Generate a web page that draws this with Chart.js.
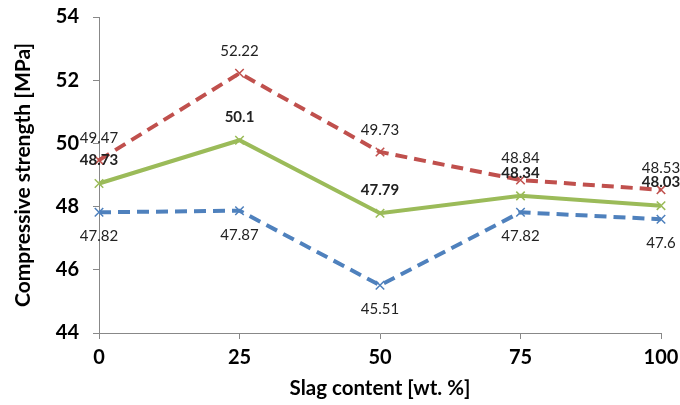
<!DOCTYPE html>
<html>
<head>
<meta charset="utf-8">
<script src="https://cdn.jsdelivr.net/npm/chart.js@4/dist/chart.umd.min.js"></script>
<style>
  html, body { margin: 0; padding: 0; background: #fff; }
  #wrap { width: 680px; height: 405px; }
</style>
</head>
<body>
<div id="wrap"><canvas id="chart"></canvas></div>
<script>
// slag content categories
var slagLabels = ['0', '25', '50', '75', '100'];

// compressive strength series [MPa]
var redVals = [49.47, 52.22, 49.73, 48.84, 48.53];
var greenVals = [48.73, 50.1, 47.79, 48.34, 48.03];
var blueVals = [47.82, 47.87, 45.51, 47.82, 47.6];

var yTicks = [44, 46, 48, 50, 52, 54];

var RED = '#C0504D';
var GREEN = '#9BBB59';
var BLUE = '#4F81BD';

// draws the value next to every point
var valueLabels = {
    id: 'valueLabels',
    afterDatasetsDraw: function(chart) {
        var ctx = chart.ctx;
        ctx.save();
        ctx.textAlign = 'center';
        ctx.textBaseline = 'middle';
        ctx.fillStyle = '#222';
        chart.data.datasets.forEach(function(ds, i) {
            var meta = chart.getDatasetMeta(i);
            ctx.font = (ds.labelBold ? 'bold ' : '') + '15px Lato, "Open Sans", sans-serif';
            meta.data.forEach(function(pt, j) {
                ctx.fillText(String(ds.data[j]), pt.x, pt.y + ds.labelOffset);
            });
        });
        ctx.restore();
    }
};

var ctx = document.getElementById('chart').getContext('2d');
var chart = new Chart(ctx, {
    type: 'line',
    data: {
        labels: slagLabels,
        datasets: [{
            data: redVals,
            borderColor: RED,
            borderWidth: 4,
            borderDash: [12, 7],
            pointStyle: 'crossRot',
            pointRadius: 6,
            pointBorderWidth: 1.5,
            pointBorderColor: RED,
            labelOffset: -22,
            labelBold: false
        }, {
            data: greenVals,
            borderColor: GREEN,
            borderWidth: 4,
            pointStyle: 'crossRot',
            pointRadius: 6,
            pointBorderWidth: 1.5,
            pointBorderColor: GREEN,
            labelOffset: -23,
            labelBold: true
        }, {
            data: blueVals,
            borderColor: BLUE,
            borderWidth: 4,
            borderDash: [12, 7],
            pointStyle: 'crossRot',
            pointRadius: 6,
            pointBorderWidth: 1.5,
            pointBorderColor: BLUE,
            labelOffset: 24,
            labelBold: false
        }]
    },
    options: {
        responsive: true,
        maintainAspectRatio: false,
        animation: false,
        layout: { padding: { left: 0, right: 19, top: 17, bottom: 0 } },
        plugins: {
            legend: { display: false },
            tooltip: { enabled: false }
        },
        scales: {
            x: {
                type: 'category',
                offset: false,
                grid: {
                    drawOnChartArea: false,
                    drawTicks: true,
                    tickLength: 6,
                    color: '#888'
                },
                border: { color: '#888', width: 1 },
                ticks: {
                    color: '#000',
                    padding: 7,
                    font: { family: 'Lato, "Open Sans", sans-serif', size: 20, weight: 'bold' }
                },
                title: {
                    display: true,
                    text: 'Slag content [wt. %]',
                    color: '#000',
                    padding: { top: 4 },
                    font: { family: 'Lato, "Open Sans", sans-serif', size: 20.5, weight: 'bold' }
                },
                afterFit: function(scale) {
                    scale.height = 72;
                    scale.paddingLeft = 0;
                    scale.paddingRight = 0;
                }
            },
            y: {
                min: 44,
                max: 54,
                afterBuildTicks: function(scale) {
                    scale.ticks = yTicks.map(function(v) { return { value: v }; });
                },
                grid: {
                    drawOnChartArea: false,
                    drawTicks: true,
                    tickLength: 6,
                    color: '#888'
                },
                border: { color: '#888', width: 1 },
                ticks: {
                    color: '#000',
                    padding: 14,
                    font: { family: 'Lato, "Open Sans", sans-serif', size: 20, weight: 'bold' }
                },
                title: {
                    display: true,
                    text: 'Compressive strength [MPa]',
                    color: '#000',
                    padding: { top: 11, bottom: 4 },
                    font: { family: 'Lato, "Open Sans", sans-serif', size: 21, weight: 'bold' }
                },
                afterFit: function(scale) {
                    scale.width = 99;
                    scale.paddingTop = 0;
                    scale.paddingBottom = 0;
                }
            }
        }
    },
    plugins: [valueLabels]
});
</script>
</body>
</html>
